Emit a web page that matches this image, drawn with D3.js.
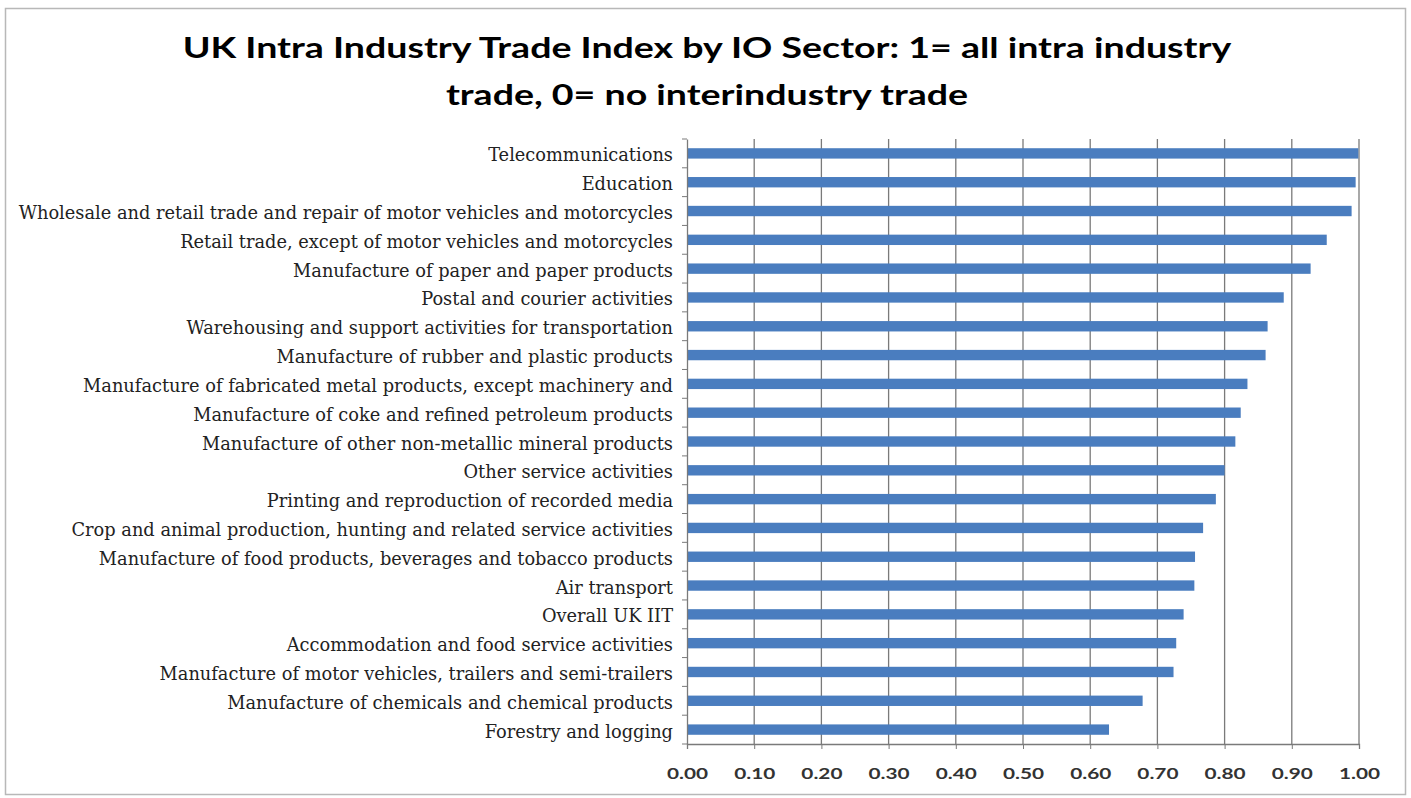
<!DOCTYPE html>
<html><head><meta charset="utf-8">
<script src="https://cdn.jsdelivr.net/npm/d3@7"></script>
<style>body{margin:0;background:#fff;}svg{display:block;}</style>
</head><body>
<svg id="chart" width="1411" height="798"></svg>
<script>
const titleLines = ["UK Intra Industry Trade Index by IO Sector: 1= all intra industry", "trade, 0= no interindustry trade"];
const categories = [
  "Telecommunications",
  "Education",
  "Wholesale and retail trade and repair of motor vehicles and motorcycles",
  "Retail trade, except of motor vehicles and motorcycles",
  "Manufacture of paper and paper products",
  "Postal and courier activities",
  "Warehousing and support activities for transportation",
  "Manufacture of rubber and plastic products",
  "Manufacture of fabricated metal products, except machinery and",
  "Manufacture of coke and refined petroleum products",
  "Manufacture of other non-metallic mineral products",
  "Other service activities",
  "Printing and reproduction of recorded media",
  "Crop and animal production, hunting and related service activities",
  "Manufacture of food products, beverages and tobacco products",
  "Air transport",
  "Overall UK IIT",
  "Accommodation and food service activities",
  "Manufacture of motor vehicles, trailers and semi-trailers",
  "Manufacture of chemicals and chemical products",
  "Forestry and logging"
];
const values = [0.999, 0.995, 0.989, 0.952, 0.928, 0.888, 0.864, 0.861, 0.834, 0.824, 0.816,
                0.800, 0.787, 0.768, 0.756, 0.755, 0.739, 0.728, 0.724, 0.678, 0.628];
const xTicks = [0, 0.1, 0.2, 0.3, 0.4, 0.5, 0.6, 0.7, 0.8, 0.9, 1.0];

const svg = d3.select("#chart");
const W = 1411, H = 798;
const m = {left: 687, right: 1359, top: 139, bottom: 744};

svg.append("rect").attr("x", 5.5).attr("y", 8.5).attr("width", W - 11).attr("height", H - 12)
  .attr("fill", "#fff").attr("stroke", "#b8b8b8").attr("stroke-width", 1.5);

const cx = 707;
const t = svg.append("text").attr("text-anchor", "middle")
  .attr("transform", `translate(${cx},0) scale(1.34,1)`)
  .attr("font-family", "Lato, 'Open Sans', sans-serif").attr("font-weight", "bold")
  .attr("font-size", 28).attr("fill", "#000");
titleLines.forEach((s, i) => t.append("tspan").attr("x", 0).attr("y", 58 + i * 47).text(s));

const x = d3.scaleLinear().domain([0, 1]).range([m.left, m.right]);
const y = d3.scaleBand().domain(categories).range([m.top, m.bottom]).paddingInner(0.64).paddingOuter(0.32);

// gridlines
svg.append("g").selectAll("line").data(xTicks.slice(1)).join("line")
  .attr("x1", d => x(d)).attr("x2", d => x(d)).attr("y1", m.top).attr("y2", m.bottom)
  .attr("stroke", "#7a7a7a").attr("stroke-width", 1.3);

// bars
svg.append("g").selectAll("rect").data(values).join("rect")
  .attr("x", x(0)).attr("y", (d, i) => y(categories[i]))
  .attr("width", d => x(d) - x(0)).attr("height", y.bandwidth())
  .attr("fill", "#4a7dbf");

// x axis
const xAxis = d3.axisBottom(x).tickValues(xTicks).tickFormat(d3.format(".2f")).tickSize(5).tickPadding(19);
const gx = svg.append("g").attr("transform", `translate(0,${m.bottom})`).call(xAxis);
gx.select(".domain").attr("stroke", "#7a7a7a").attr("stroke-width", 1.3);
gx.selectAll(".tick line").attr("stroke", "#7a7a7a");
gx.selectAll(".tick text").attr("font-family", "Lato, 'Open Sans', sans-serif").attr("font-weight", "bold")
  .attr("font-size", 16).attr("fill", "#333").attr("transform", "scale(1.3,1)");

// y axis
const yAxis = d3.axisLeft(y).tickSize(0).tickPadding(14);
const gy = svg.append("g").attr("transform", `translate(${m.left},0)`).call(yAxis);
gy.select(".domain").attr("stroke", "#7a7a7a").attr("stroke-width", 1.3);
gy.selectAll(".tick text").attr("font-family", "'DejaVu Serif', serif")
  .attr("font-size", 17.8).attr("fill", "#222").attr("dy", "0.45em");
// boundary ticks
const bounds = d3.range(categories.length + 1).map(i => m.top + i * (m.bottom - m.top) / categories.length);
svg.append("g").selectAll("line").data(bounds).join("line")
  .attr("x1", m.left - 5).attr("x2", m.left).attr("y1", d => d).attr("y2", d => d)
  .attr("stroke", "#7a7a7a");
</script>
</body></html>
